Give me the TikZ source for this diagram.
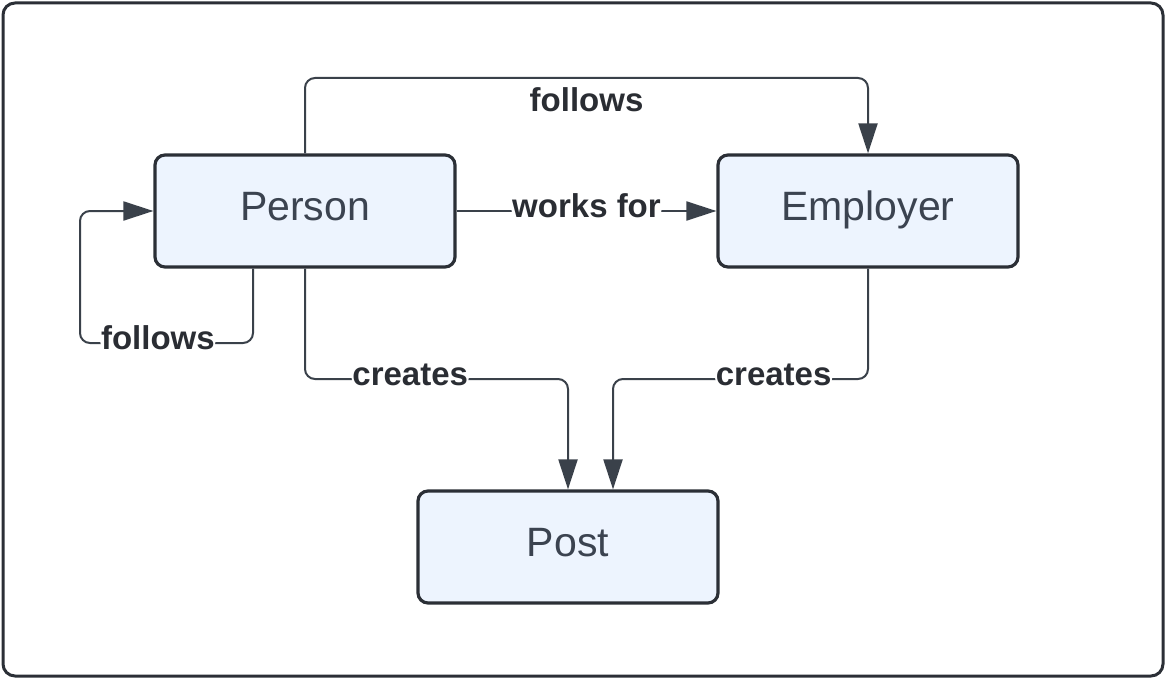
\documentclass[tikz,border=0pt]{standalone}
\usepackage{fontspec}
\setmainfont{Liberation Sans}
\usetikzlibrary{arrows.meta}
\definecolor{boxfill}{HTML}{EDF4FE}
\definecolor{boxline}{HTML}{2B2F36}
\definecolor{boxtext}{HTML}{3B4350}
\definecolor{conncol}{HTML}{3A414A}
\definecolor{labcol}{HTML}{2A2D33}
\begin{document}
\begin{tikzpicture}[x=1pt,y=-1pt,
  entity/.style={draw=boxline, fill=boxfill, line width=3.2pt, rounded corners=10pt,
    minimum width=300pt, minimum height=112pt, text=boxtext,
    font=\fontsize{41}{44}\selectfont, text height=28pt, text depth=10pt, inner sep=0pt},
  conn/.style={draw=conncol, line width=2pt, rounded corners=10pt,
    -{Triangle[length=30pt,width=19pt]}},
  lab/.style={fill=white, text=labcol, font=\fontsize{33}{36}\selectfont\bfseries,
    inner sep=1pt, anchor=base, yshift=-6.5pt}]
\useasboundingbox (0,0) rectangle (1166,679);
\draw[boxline, line width=3pt, rounded corners=12pt] (3,3) rectangle (1163,676);

\node[entity] (person) at (305,211) {Person};
\node[entity] (employer) at (868,211) {Employer};
\node[entity] (post) at (568,547) {Post};

% follows (person -> employer, over the top)
\draw[conn] (person.north) -- (person.north |- 0,78)
  -- node[text=labcol, font=\fontsize{33}{36}\selectfont\bfseries, anchor=base, yshift=-34pt, inner sep=0pt] {follows} (employer.north |- 0,78)
  -- (employer.north);

% works for
\draw[conn] (person.east) -- node[lab] {works for} (employer.west);

% self loop follows
\coordinate (pb) at ([xshift=-52pt]person.south);
\draw[conn] (pb) -- (pb |- 0,343) -- node[lab, pos=0.55] {follows} (80,343) -- (80,211) -- (person.west);

% creates (person -> post)
\draw[conn] (person.south) -- (person.south |- 0,379) -- node[lab, pos=0.40] {creates} (post.north |- 0,379) -- (post.north);

% creates (employer -> post)
\coordinate (pt2) at ([xshift=45pt]post.north);
\draw[conn] (employer.south) -- (employer.south |- 0,379) -- node[lab, pos=0.37] {creates} (pt2 |- 0,379) -- (pt2);
\end{tikzpicture}
\end{document}
